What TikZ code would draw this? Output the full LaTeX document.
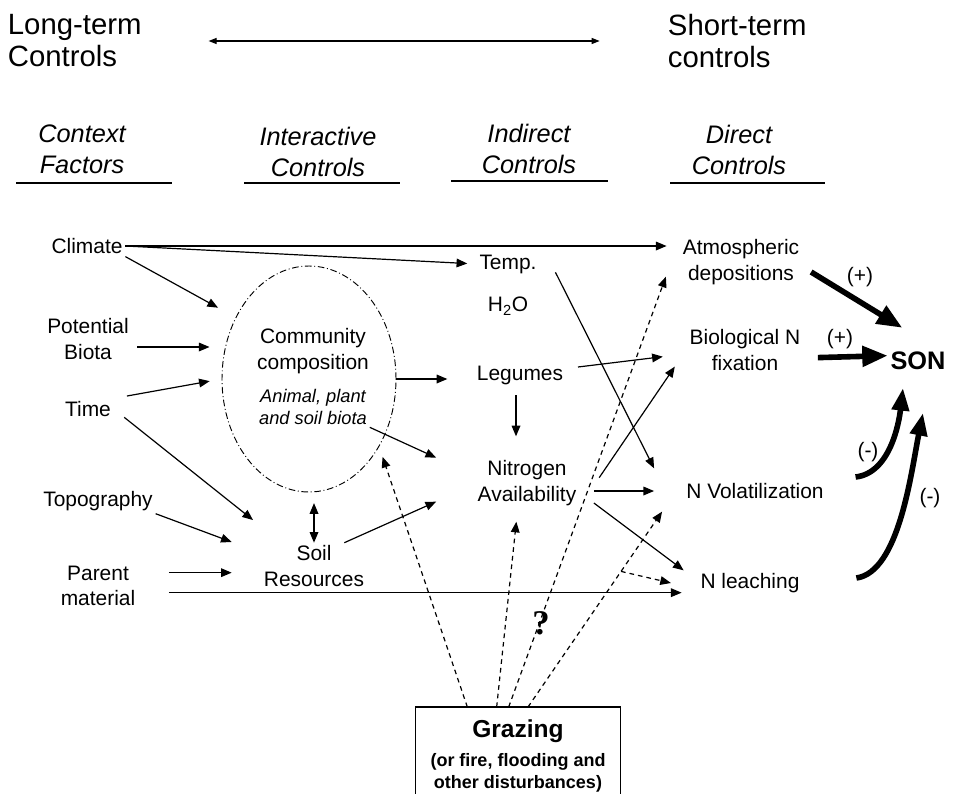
\documentclass[tikz,border=0pt]{standalone}
\usepackage{fontspec}
\setmainfont{Liberation Sans}
\newfontfamily\qmarkfont{Liberation Serif}
\usetikzlibrary{arrows.meta, shapes.geometric}

\begin{document}
\begin{tikzpicture}[
        x=0.75pt, y=-0.75pt,
        txt/.style={align=center, inner sep=2pt, font=\fontsize{15.7}{19}\selectfont},
        small/.style={align=center, inner sep=2pt, font=\fontsize{13.7}{16}\selectfont\itshape},
        head/.style={align=center, inner sep=2pt, font=\fontsize{19}{23}\selectfont\itshape},
        big/.style={align=left, inner sep=2pt, font=\fontsize{22}{24}\selectfont},
        arr/.style={line width=0.9pt, -{Triangle[length=8pt, width=6.5pt]}},
        twoarr/.style={line width=0.9pt, {Triangle[length=8pt, width=6.5pt]}-{Triangle[length=8pt, width=6.5pt]}},
        darr/.style={arr, dash pattern=on 3.5pt off 3pt},
        fat/.style={line width=4.2pt, -{Triangle[length=19pt, width=15pt]}},
        fatcurve/.style={line width=4.2pt, -{Triangle[length=17pt, width=12.5pt]}}]

        \useasboundingbox (0,0) rectangle (968,793);

        % --- TOP ROW: time scale ---
        \node (lt) at (5,41) [big, anchor=west] {Long-term\\Controls};
        \node (st) at (665,41) [big, anchor=west] {Short-term\\controls};
        \draw[line width=0.8pt, {Triangle[length=6pt, width=4.5pt]}-{Triangle[length=6pt, width=4.5pt]},
              shorten <=48pt, shorten >=49pt] (lt) -- (st);

        % --- HEADINGS ---
        \node (hctx) at (82,149) [head] {Context\\Factors};
        \node (hint) at (318,152) [head] {Interactive\\Controls};
        \node (hind) at (529,149) [head] {Indirect\\Controls};
        \node (hdir) at (739,150) [head] {Direct\\Controls};
        \draw[line width=0.9pt] (16,183) -- (172,183);
        \draw[line width=0.9pt] (244,183) -- (400,183);
        \draw[line width=1.2pt] (451,181) -- (608,181);
        \draw[line width=0.9pt] (670,183) -- (825,183);

        % --- CONTEXT FACTORS ---
        \node (clim) at (87,246) [txt] {Climate};
        \node (biota) at (88,339) [txt] {Potential\\Biota};
        \node (time) at (88,409) [txt] {Time};
        \node (topo) at (98,501) [txt] {Topography};
        \node (parent) at (98,586) [txt] {Parent\\material};

        % --- INTERACTIVE CONTROLS ---
        \node (comm) at (309,379) [ellipse, draw, line width=0.7pt, inner sep=0pt,
              dash pattern=on 5pt off 2pt on 0.7pt off 2pt,
              minimum width=130.5pt, minimum height=169.5pt] {};
        \node (commtxt) at (313,351) [txt] {Community\\composition};
        \node (biotatxt) at (313,407) [small] {Animal, plant\\and soil biota};
        \node (soil) at (314,566) [txt] {Soil\\Resources};

        % --- INDIRECT CONTROLS ---
        \node (temp) at (508,264) [txt] {Temp.};
        \node (water) at (508,306) [txt] {H\textsubscript{2}O};
        \node (leg) at (520,375) [txt] {Legumes};
        \node (navail) at (527,483) [txt] {Nitrogen\\Availability};

        % --- DIRECT CONTROLS ---
        \node (atm) at (741,262) [txt] {Atmospheric\\depositions};
        \node (fix) at (745,350) [txt] {Biological N\\fixation};
        \node (vol) at (755,491) [txt] {N Volatilization};
        \node (leach) at (750,583) [txt] {N leaching};

        % SON
        \node (son) at (918,361) [inner sep=2pt, font=\fontsize{19}{22}\selectfont\bfseries] {SON};
        \node (pl1) at (860,277) [txt] {(+)};
        \node (pl2) at (840,339) [txt] {(+)};
        \node (mi1) at (868,452) [txt] {(-)};
        \node (mi2) at (930,498) [txt] {(-)};

        % Grazing box (runs off the bottom edge)
        \node (graze) at (518,707) [anchor=north, align=center,
              minimum width=153.75pt, inner ysep=9pt,
              font=\fontsize{13.5}{16.5}\selectfont\bfseries]
              {{\fontsize{18.4}{22}\selectfont Grazing}\\[5.5pt](or fire, flooding and\\other disturbances)};
        \draw[line width=0.8pt] ([yshift=-12pt]graze.south west) -- (graze.north west)
              -- (graze.north east) -- ([yshift=-12pt]graze.south east);
        \node (q) at (541,623) [font=\qmarkfont\bfseries\fontsize{26}{26}\selectfont] {?};

        % --- ARROWS: context factors ---
        \draw[arr, shorten >=10pt] (clim.east) -- (clim.east -| atm.west);
        \draw[arr, shorten >=7pt] (clim.east) -- (temp.west);
        \draw[arr, shorten >=15pt] (clim.south east) -- (comm.140);
        \draw[arr, shorten <=4pt, shorten >=9pt] ([yshift=-6pt]biota.east) -- ([yshift=-6pt]biota.east -| comm.west);
        \draw[arr, shorten <=10pt, shorten >=9pt] (time.north east) -- (comm.west);
        \draw[arr, shorten <=10pt] (time.east) -- ([shift={(-6pt,17pt)}]soil.north west);
        \draw[arr] (topo.south east) -- ([shift={(-22pt,18pt)}]soil.west);
        \draw[arr, shorten <=23pt, shorten >=22pt] ([yshift=10pt]parent.east) -- ([yshift=10pt]parent.east -| soil.west);
        \draw[arr, shorten <=23pt, shorten >=12pt] ([yshift=-5pt]parent.east) -- ([yshift=-5pt]parent.east -| leach.west);

        % --- ARROWS: interactive controls ---
        \draw[twoarr, shorten <=8pt] (soil.north |- comm.south) -- (soil.north);
        \draw[arr, shorten >=20pt] (comm.east) -- (comm.east -| leg.west);
        \draw[arr] (biotatxt.south east) -- ([shift={(-29pt,19pt)}]navail.west);
        \draw[arr] ([xshift=-17pt]soil.north east) -- ([shift={(-29pt,-14pt)}]navail.west);

        % --- ARROWS: indirect controls ---
        \draw[arr, shorten <=6pt, shorten >=16pt] ([xshift=-3pt]leg.south) -- ([xshift=-3pt]leg.south |- navail.north);
        \draw[arr] ([shift={(9pt,6pt)}]leg.east) -- ([shift={(-18pt,-5pt)}]fix.west);
        \draw[arr] ([shift={(12pt,3pt)}]temp.south east) -- ([shift={(-22pt,17pt)}]vol.west);
        \draw[arr] ([shift={(15pt,4pt)}]navail.east) -- ([shift={(-9pt,5pt)}]fix.south west);
        \draw[arr, shorten <=11pt, shorten >=22pt] ([yshift=-6pt]navail.east) -- ([yshift=-6pt]navail.east -| vol.west);
        \draw[arr] ([shift={(11pt,-15pt)}]navail.east) -- ([xshift=-10.5pt]leach.north west);

        % --- ARROWS: grazing ---
        \draw[darr, shorten >=8pt] ([xshift=-38pt]graze.north) -- (comm.-44);
        \draw[darr] ([xshift=-16pt]graze.north) -- ([shift={(-8pt,-10pt)}]navail.south);
        \draw[darr] ([xshift=-7pt]graze.north) -- ([shift={(-10.5pt,8pt)}]atm.south west);
        \draw[darr] ([xshift=7.5pt]graze.north) -- coordinate[pos=0.694] (fork) ([shift={(-16pt,-7.5pt)}]vol.south west);
        \draw[darr] (fork) -- ([xshift=-20pt]leach.west);

        % --- ARROWS: into SON ---
        \draw[fat] ([shift={(6.75pt,-7.5pt)}]atm.east) -- ([shift={(11pt,16pt)}]son.north west);
        \draw[fat, shorten <=11pt] ([yshift=-6pt]fix.east) -- ([yshift=4pt]son.west);
        \draw[fatcurve] ([shift={(21.75pt,10.5pt)}]vol.east)
              .. controls +(26pt,3pt) and +(-3pt,-26pt) .. ([shift={(-11.25pt,-11.25pt)}]son.south);
        \draw[fatcurve] ([shift={(40.5pt,3.75pt)}]leach.east)
              .. controls +(32pt,4.5pt) and +(-9pt,-45pt) .. ([shift={(3.75pt,-30pt)}]son.south);

\end{tikzpicture}
\end{document}
